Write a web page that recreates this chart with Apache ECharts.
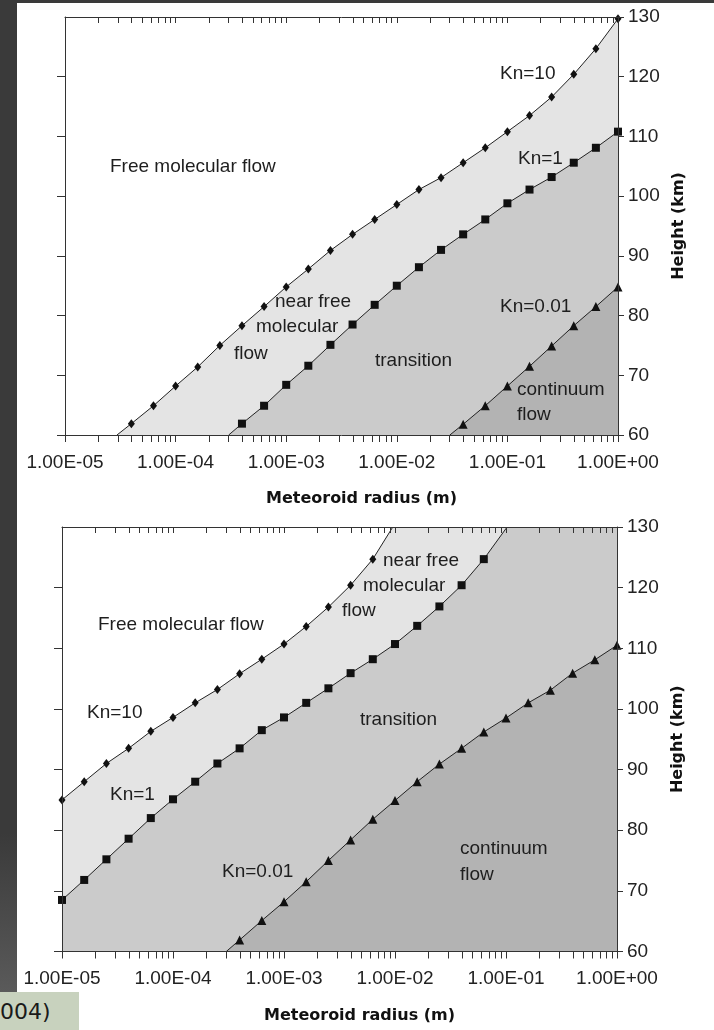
<!DOCTYPE html>
<html>
<head>
<meta charset="utf-8">
<script src="https://cdn.jsdelivr.net/npm/echarts@6/dist/echarts.min.js"></script>
<style>
  html, body { margin: 0; padding: 0; background: #fff; }
  #strip { position: absolute; left: 0; top: 0; width: 17px; height: 992px;
           background: linear-gradient(#3a3a3a 0%, #3a3a3a 84%, #5a5a5a 100%); }
  #band { position: absolute; left: 0; top: 0; width: 714px; height: 3px; background: #3a3a3a; }
  #note { position: absolute; left: 0; top: 992px; width: 79px; height: 38px; background: #c8d2be;
          font: 22px "DejaVu Sans", sans-serif; color: #1a1a1a; line-height: 40px; }
  #chart { position: absolute; left: 0; top: 0; width: 714px; height: 1030px; }
</style>
</head>
<body>
<div id="strip"></div>
<div id="band"></div>
<div id="note">004)</div>
<div id="chart"></div>
<script>
// x values are log10 of the meteoroid radius (m), heights in km
// upper panel
const topKn10Exp = [-4.53, -4.4, -4.2, -4.0, -3.8, -3.6, -3.4, -3.2, -3.0, -2.8, -2.6, -2.4, -2.2, -2.0, -1.8, -1.6, -1.4, -1.2, -1.0, -0.8, -0.6, -0.4, -0.2, 0];
const topKn10H   = [60, 61.9, 64.9, 68.2, 71.4, 75.0, 78.3, 81.5, 84.8, 87.8, 90.9, 93.6, 96.1, 98.6, 101.1, 103.1, 105.6, 108.1, 110.8, 113.5, 116.6, 120.4, 124.7, 129.7];
const topKn1Exp  = [-3.52, -3.4, -3.2, -3.0, -2.8, -2.6, -2.4, -2.2, -2.0, -1.8, -1.6, -1.4, -1.2, -1.0, -0.8, -0.6, -0.4, -0.2, 0];
const topKn1H    = [60, 61.9, 64.9, 68.4, 71.6, 75.1, 78.5, 81.8, 85.0, 88.1, 91.0, 93.6, 96.1, 98.8, 101.1, 103.2, 105.6, 108.1, 110.8];
const topKn001Exp = [-1.52, -1.4, -1.2, -1.0, -0.8, -0.6, -0.4, -0.2, 0];
const topKn001H   = [60, 61.8, 64.9, 68.2, 71.5, 74.9, 78.3, 81.5, 84.8];

// lower panel
const botKn10Exp = [-5.0, -4.8, -4.6, -4.4, -4.2, -4.0, -3.8, -3.6, -3.4, -3.2, -3.0, -2.8, -2.6, -2.4, -2.2, -2.02];
const botKn10H   = [85.0, 88.0, 91.0, 93.5, 96.3, 98.6, 101.0, 103.2, 105.8, 108.2, 110.7, 113.6, 116.8, 120.4, 124.7, 130];
const botKn1Exp  = [-5.0, -4.8, -4.6, -4.4, -4.2, -4.0, -3.8, -3.6, -3.4, -3.2, -3.0, -2.8, -2.6, -2.4, -2.2, -2.0, -1.8, -1.6, -1.4, -1.2, -0.99];
const botKn1H    = [68.5, 71.8, 75.2, 78.6, 82.0, 85.1, 88.0, 91.0, 93.5, 96.5, 98.6, 101.0, 103.4, 105.9, 108.2, 110.7, 113.7, 116.9, 120.4, 124.7, 130];
const botKn001Exp = [-3.52, -3.4, -3.2, -3.0, -2.8, -2.6, -2.4, -2.2, -2.0, -1.8, -1.6, -1.4, -1.2, -1.0, -0.8, -0.6, -0.4, -0.2, 0];
const botKn001H   = [60, 61.9, 65.1, 68.2, 71.5, 75.0, 78.4, 81.8, 84.9, 88.0, 90.9, 93.5, 96.2, 98.5, 101.0, 103.1, 105.9, 108.1, 110.5];

const xMajor = [1e-5, 1e-4, 1e-3, 1e-2, 1e-1, 1];
const xLabels = ['1.00E-05', '1.00E-04', '1.00E-03', '1.00E-02', '1.00E-01', '1.00E+00'];
const hTicks = [60, 70, 80, 90, 100, 110, 120, 130];

// log ticks 1..9 in each decade
const xTicks = [];
xMajor.slice(0, 5).forEach(d => { for (let m = 1; m < 10; m++) xTicks.push(+(m * d).toPrecision(3)); });
xTicks.push(1);
const xTopTicks = xTicks.slice(1, -1);

const FONT = '"Liberation Sans", Arial, sans-serif';

// points where the line meets the frame carry no marker
function pts(exps, hs, bare) {
  return exps.map((e, i) => {
    const v = [Math.pow(10, e), hs[i]];
    return bare.includes(i) ? { value: v, symbol: 'none' } : v;
  });
}

function lineSeries(g, data, symbol, size, fill, origin) {
  return {
    type: 'line', xAxisIndex: g * 2, yAxisIndex: g * 2, data: data,
    symbol: symbol, symbolSize: size, showSymbol: true,
    itemStyle: { color: '#111' },
    lineStyle: { color: '#222', width: 1 },
    areaStyle: { color: fill, opacity: 1, origin: origin },
    animation: false, silent: true
  };
}

const grids = [
  { left: 65, top: 17, width: 553, height: 418 },
  { left: 62, top: 527, width: 555, height: 424.5, show: true, backgroundColor: '#cbcbcb', borderWidth: 0 }
];

const xAxes = [], yAxes = [];
grids.forEach((g, i) => {
  xAxes.push({
    type: 'log', logBase: 10, gridIndex: i, position: 'bottom', min: 1e-5, max: 1, z: 5,
    axisLine: { show: true, onZero: false, lineStyle: { color: '#333', width: 1 } },
    axisTick: { show: true, inside: false, length: 7, customValues: xTicks, lineStyle: { color: '#333' } },
    minorTick: { show: false }, splitLine: { show: false },
    axisLabel: { customValues: xMajor, margin: 18, fontSize: 19, fontFamily: FONT, color: '#222',
      formatter: v => xLabels[Math.round(Math.log10(v)) + 5] },
    name: 'Meteoroid radius (m)', nameLocation: 'middle', nameGap: 56,
    nameTextStyle: { fontFamily: '"DejaVu Sans", sans-serif', fontWeight: 'bold', fontSize: 16, color: '#111', padding: [0, 0, 0, 40] }
  });
  xAxes.push({
    type: 'log', logBase: 10, gridIndex: i, position: 'top', min: 1e-5, max: 1, z: 5,
    axisLine: { show: true, onZero: false, lineStyle: { color: '#333', width: 1 } },
    axisTick: { show: true, inside: true, length: 6, customValues: xTopTicks, lineStyle: { color: '#333' } },
    minorTick: { show: false }, splitLine: { show: false }, axisLabel: { show: false }
  });
  yAxes.push({
    type: 'value', gridIndex: i, position: 'left', min: 60, max: 130, interval: 10, z: 5,
    axisLine: { show: true, onZero: false, lineStyle: { color: '#333', width: 1 } },
    axisTick: { show: true, inside: false, length: 8, customValues: hTicks.slice(0, -1), lineStyle: { color: '#333' } },
    splitLine: { show: false }, axisLabel: { show: false }
  });
  yAxes.push({
    type: 'value', gridIndex: i, position: 'right', min: 60, max: 130, interval: 10, z: 5,
    axisLine: { show: true, onZero: false, lineStyle: { color: '#333', width: 1 } },
    axisTick: { show: true, inside: false, length: 6, lineStyle: { color: '#333' } },
    splitLine: { show: false },
    axisLabel: { customValues: hTicks, margin: 10, fontSize: 19, fontFamily: FONT, color: '#222' },
    name: 'Height (km)', nameLocation: 'middle', nameRotate: 90, nameGap: 52,
    nameTextStyle: { fontFamily: '"DejaVu Sans", sans-serif', fontWeight: 'bold', fontSize: 16, color: '#111' }
  });
});

const series = [
  lineSeries(0, pts(topKn10Exp, topKn10H, [0]), 'diamond', [7, 9], '#e4e4e4', 'start'),
  lineSeries(0, pts(topKn1Exp, topKn1H, [0]), 'rect', 8, '#cbcbcb', 'start'),
  lineSeries(0, pts(topKn001Exp, topKn001H, [0]), 'triangle', 9, '#b3b3b3', 'start'),
  lineSeries(1, pts(botKn1Exp, botKn1H, [botKn1Exp.length - 1]), 'rect', 8, '#e4e4e4', 'end'),
  lineSeries(1, pts(botKn10Exp, botKn10H, [botKn10Exp.length - 1]), 'diamond', [7, 9], '#ffffff', 'end'),
  lineSeries(1, pts(botKn001Exp, botKn001H, [0]), 'triangle', 9, '#b3b3b3', 'start')
];

// region annotations: [text, left x, centre y]
const notes = [
  ['Free molecular flow', 110, 167], ['Kn=10', 500, 74], ['Kn=1', 518, 159],
  ['near free', 275, 302], ['molecular', 256, 327], ['flow', 234, 354],
  ['transition', 375, 361], ['Kn=0.01', 500, 307], ['continuum', 517, 390], ['flow', 517, 415],
  ['Free molecular flow', 98, 625], ['Kn=10', 87, 713],
  ['near free', 383, 561], ['molecular', 363, 586], ['flow', 342, 611],
  ['transition', 360, 720], ['Kn=1', 110, 795], ['Kn=0.01', 222, 872],
  ['continuum', 460, 849], ['flow', 460, 875]
];

const chart = echarts.init(document.getElementById('chart'), null, { renderer: 'canvas' });
chart.setOption({
  backgroundColor: 'transparent',
  animation: false,
  grid: grids,
  xAxis: xAxes,
  yAxis: yAxes,
  series: series,
  graphic: notes.map(n => ({
    type: 'text', x: n[1], y: n[2], z: 10, silent: true,
    style: { text: n[0], fontSize: 19, fontFamily: FONT, fill: '#1e1e1e', verticalAlign: 'middle' }
  }))
});
</script>
</body>
</html>
